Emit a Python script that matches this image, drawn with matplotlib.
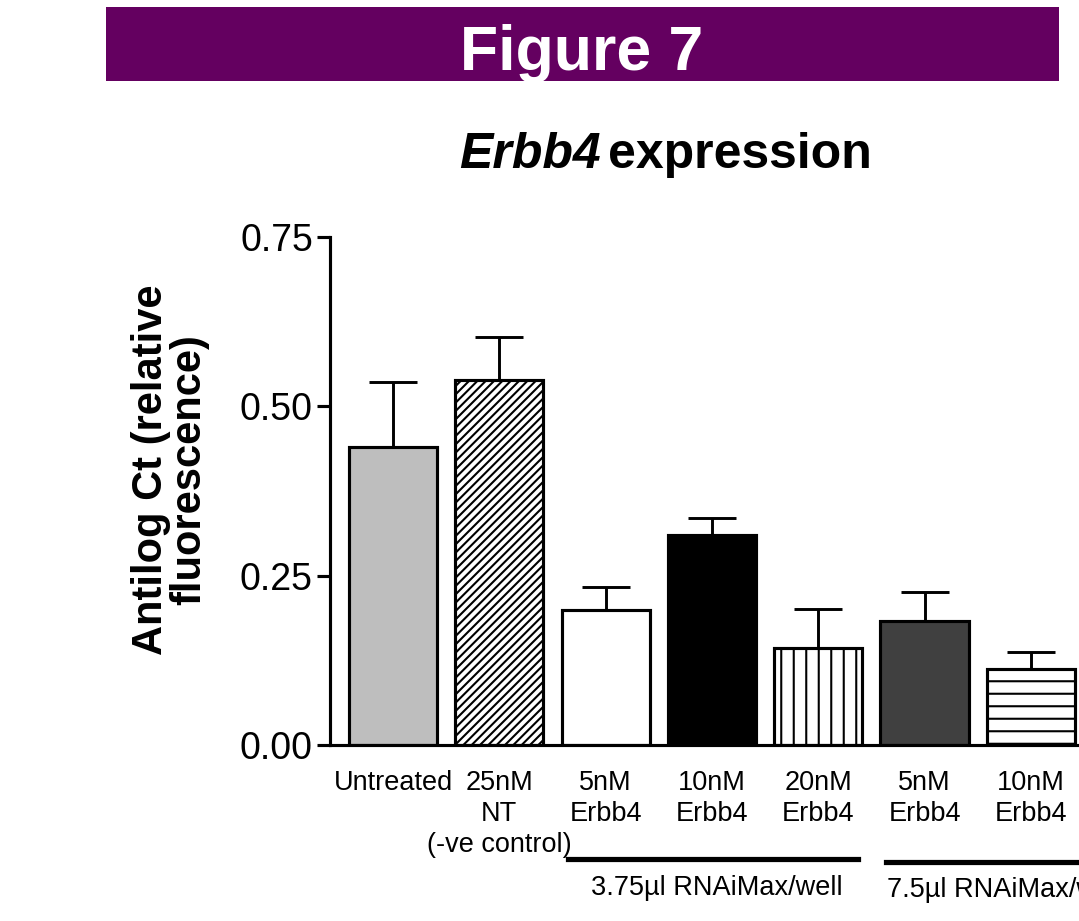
import matplotlib
matplotlib.use("Agg")
import matplotlib.pyplot as plt
import matplotlib.transforms as mtransforms
from matplotlib.patches import Rectangle

# --------------------
# DATA
# --------------------
conditions = ["Untreated", "25nM\nNT\n(-ve control)", "5nM\nErbb4", "10nM\nErbb4",
              "20nM\nErbb4", "5nM\nErbb4", "10nM\nErbb4"]
mean_vals = [0.440, 0.539, 0.199, 0.310, 0.143, 0.183, 0.112]
sem_vals = [0.096, 0.063, 0.034, 0.025, 0.058, 0.043, 0.025]
face_colors = ["#bebebe", "white", "white", "black", "white", "#404040", "white"]
hatches = [None, "//////", None, None, "||", None, "--"]
group_labels = ["3.75µl RNAiMax/well", "7.5µl RNAiMax/well"]
group_spans = [(1.65, 4.37), (4.64, 7.6)]

plt.rcParams["font.family"] = ["Liberation Sans", "DejaVu Sans"]
plt.rcParams["hatch.linewidth"] = 1.0

DPI = 150
fig = plt.figure(figsize=(1079 / DPI, 921 / DPI), dpi=DPI)

# purple header banner
fig.patches.append(Rectangle((106 / 1079, 1 - 81 / 921), (1059 - 106) / 1079, 74 / 921,
                             transform=fig.transFigure, facecolor="#640060",
                             edgecolor="none", zorder=0))
fig.text(582 / 1079, 1 - 70 / 921, "Figure 7", color="white", fontsize=30,
         fontweight="bold", ha="center", va="baseline")

# title with italic gene name
fig.text(601 / 1079, 1 - 168 / 921, "Erbb4", fontsize=24, fontweight="bold",
         fontstyle="italic", ha="right", va="baseline")
fig.text(608 / 1079, 1 - 168 / 921, "expression", fontsize=24, fontweight="bold",
         ha="left", va="baseline")

ax = fig.add_axes([330 / 1079, (921 - 745) / 921, 1 - 330 / 1079, 508 / 921])

x = list(range(len(mean_vals)))
ax.errorbar(x, mean_vals, yerr=[[0] * len(sem_vals), sem_vals], fmt="none",
            ecolor="black", elinewidth=1.4, capsize=11.5, capthick=1.4, zorder=1)
ax.bar(x, mean_vals, width=0.83, color=face_colors, edgecolor="black",
       linewidth=1.5, hatch=hatches, zorder=2)

ax.set_xlim(-0.593, 6.453)
ax.set_ylim(0, 0.75)
ax.set_yticks([0, 0.25, 0.5, 0.75])
ax.set_yticklabels(["0.00", "0.25", "0.50", "0.75"], fontsize=18)
ax.set_xticks(x)
ax.set_xticklabels(conditions, fontsize=13, linespacing=1.25)
ax.tick_params(axis="y", direction="out", length=6.2, width=1.5, pad=2)
ax.tick_params(axis="x", length=0, pad=12)

for side in ["top", "right"]:
    ax.spines[side].set_visible(False)
for side in ["left", "bottom"]:
    ax.spines[side].set_linewidth(1.5)

fig.text(170 / 1079, 1 - 470 / 921, "Antilog Ct (relative\nfluorescence)", fontsize=20,
         fontweight="bold", rotation=90, ha="center", va="center",
         multialignment="center", linespacing=0.95)

# group bars under the tick labels
trans = mtransforms.blended_transform_factory(ax.transData, ax.transAxes)
for (x0, x1), yy in zip(group_spans, [-0.224, -0.230]):
    ax.plot([x0, x1], [yy, yy], color="black", lw=2.5, transform=trans, clip_on=False)
ax.text(3.05, -0.255, group_labels[0], transform=trans, ha="center", va="top", fontsize=13)
ax.text(4.65, -0.26, group_labels[1], transform=trans, ha="left", va="top", fontsize=13)

fig.savefig("out.png", dpi=DPI)
